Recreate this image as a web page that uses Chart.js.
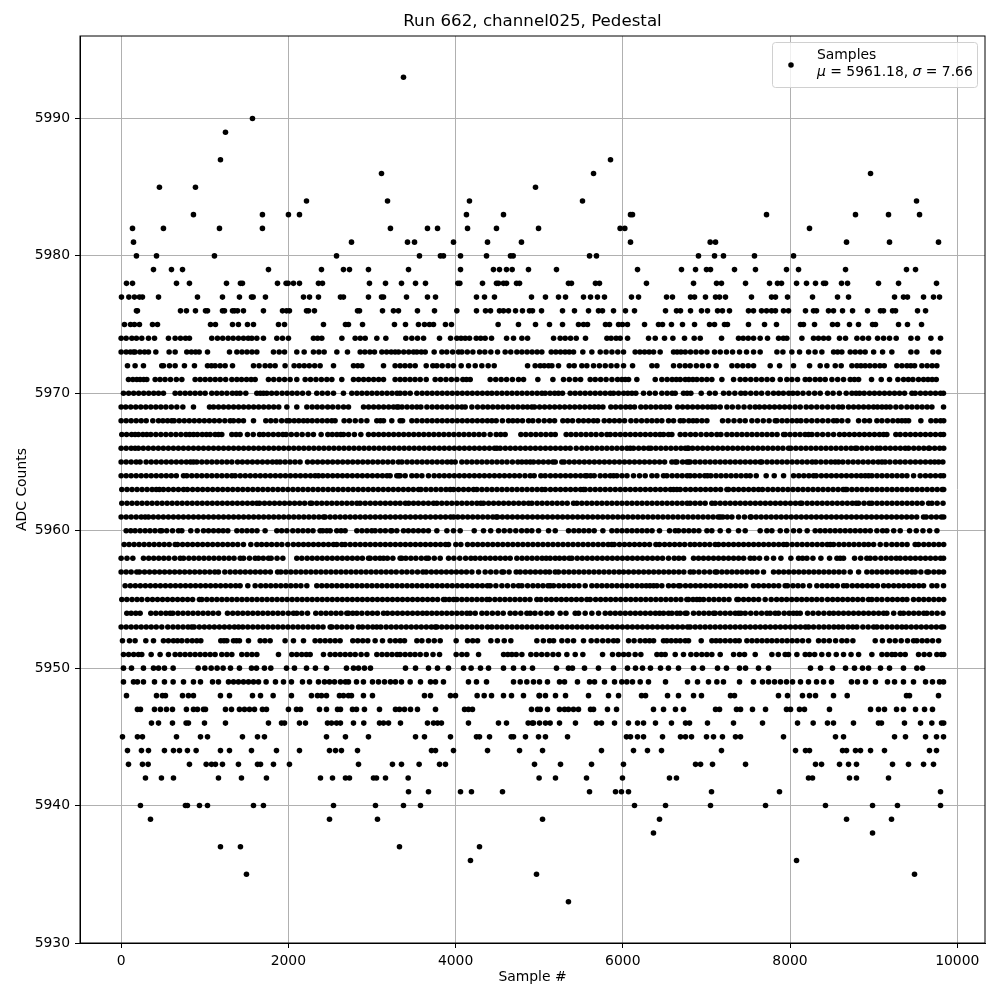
<!DOCTYPE html>
<html>
<head>
<meta charset="utf-8">
<script src="https://cdn.jsdelivr.net/npm/chart.js@4"></script>
<style>
body { margin: 0; background: #fff; }
canvas { display: block; }
</style>
</head>
<body>
<canvas id="myChart" width="1000" height="1000"></canvas>
<script>
// sample numbers, one array per ADC level
const l5993 = [3377];
const l5990 = [1571];
const l5989 = [1248];
const l5987 = [1188, 5853];
const l5986 = [3114, 5650, 8963];
const l5985 = [458, 889, 4956];
const l5984 = [2217, 3186, 4166, 5518, 9513];
const l5983 = [865, 1690, 2001, 2133, 4130, 4573, 6092, 6116, 7719, 8783, 9178, 9549];
const l5982 = [136, 506, 1176, 1690, 3221, 3664, 3784, 4143, 4489, 4992, 5968, 6024, 8233];
const l5981 = [148, 2755, 3425, 3509, 3975, 4382, 4788, 6092, 7045, 7109, 8676, 9190, 9776];
const l5980 = [183, 423, 1116, 2576, 3568, 3819, 3855, 4059, 4370, 4657, 4689, 5602, 5685, 6905, 7097, 7204, 7575, 8042];
const l5979 = [387, 602, 734, 1762, 2396, 2659, 2731, 2958, 3437, 4059, 4453, 4525, 4609, 4677, 4872, 5207, 6176, 6702, 6870, 7001, 7049, 7336, 7587, 7958, 8102, 8664, 9393, 9501];
const l5978 = [64, 136, 662, 817, 1260, 1427, 1451, 1870, 1973, 1997, 2061, 2133, 2360, 2408, 2970, 3162, 3353, 3521, 3640, 4027, 4051, 4322, 4489, 4513, 4573, 4609, 4729, 4765, 5350, 5386, 5673, 5721, 6283, 6846, 7121, 7180, 7468, 7755, 7850, 7898, 8078, 8197, 8305, 8401, 8425, 8616, 8688, 9058, 9298, 9752];
const l5977 = [4, 92, 159, 219, 255, 447, 913, 1212, 1415, 1559, 1579, 1726, 2181, 2253, 2360, 2623, 2659, 2958, 3114, 3138, 3413, 3664, 3760, 4250, 4346, 4465, 4908, 5075, 5231, 5315, 5530, 5614, 5697, 5781, 6104, 6188, 6523, 6594, 6810, 6858, 6989, 7109, 7157, 7228, 7539, 7779, 7826, 7970, 8269, 8568, 8700, 9250, 9357, 9405, 9597, 9716, 9788];
const l5976 = [183, 195, 710, 781, 889, 1009, 1033, 1212, 1236, 1332, 1356, 1392, 1463, 1702, 1930, 1978, 2013, 2217, 2241, 2312, 2827, 2851, 3126, 3257, 3317, 3544, 3748, 4015, 4250, 4358, 4418, 4525, 4573, 4633, 4717, 4800, 4884, 4920, 5028, 5279, 5422, 5590, 5709, 5757, 5889, 6032, 6140, 6511, 6642, 6690, 6810, 6941, 7013, 7133, 7192, 7276, 7503, 7563, 7659, 7719, 7779, 7826, 7922, 7982, 8185, 8281, 8317, 8460, 8520, 8628, 8748, 8927, 9082, 9118, 9226, 9262, 9525, 9621];
const l5975 = [40, 112, 159, 219, 375, 435, 1069, 1128, 1332, 1403, 1511, 1583, 1882, 1954, 2420, 2683, 2719, 2887, 3269, 3401, 3556, 3628, 3688, 3736, 3879, 3951, 4509, 4752, 4956, 5123, 5279, 5470, 5530, 5578, 5793, 5841, 5949, 5996, 6056, 6260, 6427, 6475, 6582, 6714, 6858, 7037, 7097, 7216, 7252, 7503, 7695, 7838, 8125, 8161, 8293, 8508, 8568, 8711, 8819, 8987, 9022, 9298, 9405, 9573];
const l5974 = [0, 60, 128, 183, 247, 327, 399, 566, 646, 710, 770, 817, 1084, 1152, 1215, 1280, 1340, 1403, 1463, 1520, 1563, 1623, 1702, 1862, 1930, 2001, 2300, 2350, 2400, 2640, 2799, 2860, 2919, 3058, 3166, 3405, 3477, 3545, 3617, 3808, 3940, 4015, 4065, 4115, 4167, 4247, 4300, 4354, 4430, 4610, 4693, 4793, 4861, 5172, 5251, 5311, 5375, 5443, 5554, 5810, 5860, 5920, 5969, 6057, 6308, 6388, 6499, 6599, 6738, 6854, 6926, 7181, 7384, 7440, 7500, 7564, 7643, 7731, 7863, 7920, 7962, 8142, 8281, 8340, 8401, 8461, 8592, 8664, 8800, 8870, 8939, 9047, 9119, 9190, 9270, 9446, 9525, 9685, 9800];
const l5973 = [0, 60, 110, 148, 167, 225, 280, 327, 415, 574, 646, 785, 840, 890, 933, 1033, 1296, 1384, 1445, 1505, 1565, 1623, 1822, 1890, 1954, 2101, 2189, 2300, 2365, 2428, 2580, 2707, 2859, 2915, 2975, 3030, 3118, 3175, 3230, 3277, 3318, 3380, 3440, 3497, 3537, 3590, 3637, 3744, 3836, 3895, 3965, 4035, 4075, 4140, 4207, 4287, 4350, 4422, 4502, 4593, 4660, 4733, 4793, 4855, 4915, 4975, 5032, 5144, 5199, 5255, 5310, 5359, 5411, 5522, 5630, 5730, 5800, 5870, 5940, 6009, 6148, 6205, 6260, 6315, 6368, 6447, 6607, 6650, 6695, 6747, 6810, 6875, 6940, 7006, 7097, 7165, 7240, 7313, 7396, 7480, 7564, 7643, 7843, 7915, 8022, 8114, 8222, 8300, 8381, 8521, 8570, 8620, 8720, 8780, 8840, 8899, 9000, 9107, 9218, 9446, 9517, 9709, 9777];
const l5972 = [76, 167, 267, 486, 506, 578, 646, 757, 877, 1033, 1080, 1124, 1184, 1244, 1332, 1583, 1650, 1722, 1782, 1842, 1961, 2069, 2130, 2190, 2250, 2315, 2380, 2540, 2779, 2830, 2879, 3138, 3277, 3337, 3395, 3455, 3517, 3649, 3728, 3776, 3840, 3910, 3975, 4067, 4155, 4235, 4314, 4390, 4462, 4861, 4952, 5012, 5060, 5112, 5152, 5231, 5359, 5419, 5510, 5570, 5650, 5720, 5790, 5860, 5929, 6009, 6117, 6348, 6408, 6607, 6680, 6746, 6806, 6880, 6950, 7025, 7117, 7305, 7370, 7435, 7500, 7564, 7763, 7875, 8042, 8234, 8361, 8441, 8541, 8612, 8740, 8800, 8848, 8899, 8955, 9015, 9075, 9127, 9278, 9338, 9398, 9445, 9490, 9577, 9640, 9700, 9756];
const l5971 = [88, 140, 187, 227, 270, 307, 407, 465, 525, 590, 660, 726, 885, 945, 1005, 1065, 1125, 1185, 1250, 1324, 1384, 1440, 1500, 1555, 1603, 1762, 1825, 1890, 1955, 2021, 2101, 2201, 2265, 2330, 2395, 2460, 2520, 2639, 2779, 2840, 2900, 2960, 3020, 3080, 3138, 3277, 3337, 3395, 3455, 3515, 3577, 3649, 3756, 3820, 3885, 3950, 4015, 4087, 4130, 4175, 4414, 4480, 4545, 4610, 4680, 4753, 4813, 4984, 5164, 5291, 5360, 5431, 5495, 5610, 5670, 5735, 5800, 5870, 5937, 5989, 6030, 6069, 6168, 6388, 6467, 6530, 6590, 6640, 6687, 6747, 6790, 6838, 6886, 6945, 7005, 7065, 7185, 7325, 7404, 7465, 7530, 7595, 7660, 7725, 7790, 7883, 7962, 8022, 8090, 8182, 8234, 8301, 8360, 8421, 8501, 8570, 8640, 8720, 8770, 8820, 8975, 9091, 9190, 9290, 9358, 9415, 9470, 9537, 9597, 9650, 9700, 9749];
const l5970 = [28, 90, 150, 210, 270, 330, 390, 447, 506, 646, 705, 766, 825, 885, 945, 1005, 1084, 1144, 1204, 1265, 1330, 1380, 1423, 1491, 1623, 1665, 1702, 1742, 1800, 1860, 1925, 1985, 2045, 2105, 2170, 2241, 2340, 2405, 2470, 2540, 2659, 2759, 2820, 2880, 2940, 3000, 3060, 3120, 3180, 3240, 3300, 3337, 3395, 3457, 3537, 3600, 3660, 3720, 3780, 3840, 3900, 3960, 4020, 4080, 4140, 4200, 4260, 4320, 4380, 4434, 4494, 4555, 4615, 4675, 4735, 4795, 4855, 4915, 4975, 5032, 5072, 5130, 5185, 5231, 5279, 5371, 5430, 5490, 5550, 5610, 5670, 5730, 5790, 5850, 5889, 5949, 6010, 6060, 6109, 6156, 6248, 6320, 6388, 6467, 6530, 6590, 6627, 6726, 6770, 6814, 6938, 7037, 7105, 7205, 7270, 7340, 7412, 7464, 7530, 7595, 7660, 7735, 7803, 7863, 7920, 7985, 8034, 8090, 8155, 8225, 8295, 8361, 8449, 8515, 8590, 8672, 8740, 8790, 8832, 8887, 8951, 9010, 9070, 9130, 9190, 9250, 9310, 9370, 9458, 9497, 9560, 9620, 9680, 9740, 9800, 9835];
const l5969 = [0, 55, 115, 175, 235, 295, 355, 415, 475, 535, 600, 666, 738, 865, 1057, 1105, 1165, 1225, 1285, 1345, 1405, 1465, 1525, 1585, 1645, 1705, 1765, 1825, 1885, 1982, 2101, 2221, 2285, 2345, 2405, 2470, 2530, 2595, 2660, 2719, 2899, 2960, 3020, 3080, 3140, 3200, 3257, 3317, 3298, 3360, 3420, 3480, 3537, 3585, 3657, 3720, 3780, 3840, 3900, 3960, 4020, 4075, 4115, 4195, 4263, 4326, 4385, 4445, 4505, 4565, 4625, 4685, 4745, 4805, 4860, 4912, 4944, 5005, 5065, 5125, 5185, 5245, 5305, 5365, 5425, 5485, 5545, 5605, 5660, 5710, 5762, 5857, 5915, 5975, 6035, 6089, 6140, 6216, 6275, 6335, 6395, 6455, 6510, 6559, 6655, 6715, 6775, 6835, 6895, 6955, 7015, 7065, 7105, 7165, 7245, 7310, 7380, 7450, 7520, 7584, 7635, 7695, 7755, 7815, 7875, 7935, 7995, 8060, 8122, 8194, 8255, 8320, 8385, 8450, 8515, 8580, 8628, 8700, 8760, 8820, 8880, 8940, 8999, 9047, 9100, 9150, 9198, 9266, 9330, 9398, 9458, 9520, 9580, 9640, 9697, 9836];
const l5968 = [0, 60, 120, 180, 240, 300, 379, 447, 500, 555, 606, 634, 695, 755, 815, 875, 935, 995, 1055, 1115, 1175, 1240, 1304, 1344, 1405, 1463, 1583, 1730, 1790, 1850, 1920, 1982, 2013, 2070, 2125, 2181, 2229, 2285, 2345, 2405, 2465, 2520, 2559, 2667, 2730, 2800, 2870, 2939, 3058, 3100, 3138, 3237, 3337, 3366, 3477, 3537, 3600, 3660, 3720, 3780, 3840, 3900, 3960, 4020, 4080, 4140, 4200, 4260, 4320, 4380, 4434, 4486, 4560, 4633, 4685, 4740, 4800, 4873, 4924, 4992, 5060, 5125, 5184, 5283, 5340, 5399, 5471, 5530, 5590, 5650, 5698, 5778, 5840, 5900, 5960, 6021, 6097, 6160, 6225, 6288, 6348, 6408, 6467, 6547, 6607, 6687, 6726, 6790, 6840, 6886, 6946, 7006, 7193, 7260, 7330, 7400, 7464, 7544, 7610, 7680, 7750, 7823, 7843, 7905, 7965, 8025, 8082, 8130, 8195, 8260, 8325, 8390, 8455, 8521, 8561, 8620, 8692, 8820, 8891, 8951, 9039, 9099, 9165, 9230, 9290, 9338, 9380, 9418, 9565, 9685, 9745, 9800, 9838];
const l5967 = [8, 65, 125, 167, 207, 260, 307, 355, 415, 475, 535, 595, 655, 715, 775, 820, 866, 913, 970, 1020, 1065, 1124, 1165, 1204, 1324, 1375, 1423, 1511, 1580, 1655, 1702, 1760, 1820, 1880, 1934, 1973, 2035, 2100, 2165, 2235, 2300, 2392, 2472, 2525, 2580, 2627, 2659, 2720, 2790, 2867, 2958, 3020, 3080, 3140, 3200, 3260, 3320, 3380, 3440, 3500, 3560, 3620, 3680, 3740, 3800, 3860, 3920, 3980, 4040, 4100, 4160, 4220, 4280, 4340, 4414, 4486, 4540, 4593, 4781, 4840, 4900, 4960, 5020, 5080, 5140, 5192, 5323, 5380, 5440, 5500, 5560, 5620, 5680, 5745, 5810, 5850, 5910, 5970, 6030, 6090, 6150, 6210, 6270, 6330, 6390, 6445, 6487, 6547, 6587, 6687, 6746, 6810, 6870, 6935, 7000, 7060, 7125, 7173, 7245, 7305, 7365, 7425, 7485, 7545, 7605, 7665, 7725, 7785, 7845, 7923, 7942, 8000, 8060, 8120, 8180, 8222, 8262, 8325, 8390, 8455, 8521, 8592, 8650, 8710, 8770, 8830, 8890, 8950, 9010, 9070, 9119, 9158, 9266, 9318, 9380, 9440, 9500, 9560, 9620, 9680, 9740, 9800, 9836];
const l5966 = [0, 60, 120, 167, 207, 265, 325, 385, 445, 505, 565, 625, 685, 745, 805, 865, 925, 985, 1045, 1105, 1165, 1225, 1285, 1345, 1405, 1465, 1525, 1585, 1645, 1705, 1765, 1825, 1885, 1945, 2005, 2065, 2125, 2185, 2245, 2305, 2365, 2425, 2485, 2545, 2605, 2665, 2725, 2785, 2845, 2905, 2965, 3025, 3085, 3145, 3205, 3265, 3325, 3385, 3445, 3505, 3565, 3625, 3685, 3745, 3805, 3865, 3925, 3985, 4045, 4105, 4165, 4225, 4285, 4345, 4405, 4465, 4494, 4534, 4595, 4655, 4715, 4775, 4835, 4895, 4955, 5015, 5075, 5135, 5195, 5255, 5315, 5371, 5443, 5510, 5570, 5630, 5690, 5750, 5810, 5870, 5930, 5990, 6050, 6089, 6128, 6190, 6250, 6308, 6336, 6395, 6455, 6515, 6575, 6635, 6695, 6747, 6786, 6774, 6835, 6895, 6955, 7015, 7075, 7135, 7195, 7255, 7315, 7375, 7435, 7495, 7555, 7615, 7675, 7735, 7795, 7855, 7915, 7982, 8010, 8070, 8130, 8190, 8250, 8310, 8370, 8430, 8490, 8550, 8610, 8670, 8730, 8780, 8800, 8860, 8920, 8980, 9039, 9079, 9140, 9200, 9260, 9320, 9378, 9418, 9480, 9540, 9600, 9657, 9669, 9730, 9790, 9838];
const l5965 = [0, 60, 120, 180, 227, 299, 360, 420, 480, 540, 600, 660, 720, 780, 830, 865, 905, 965, 1025, 1085, 1145, 1205, 1265, 1324, 1392, 1450, 1510, 1570, 1630, 1690, 1750, 1810, 1860, 1902, 1961, 2020, 2080, 2140, 2229, 2290, 2350, 2410, 2470, 2530, 2590, 2650, 2710, 2770, 2830, 2890, 2950, 3010, 3070, 3130, 3190, 3250, 3317, 3358, 3420, 3480, 3540, 3600, 3660, 3720, 3780, 3840, 3900, 3950, 3995, 4075, 4135, 4195, 4255, 4315, 4375, 4435, 4495, 4555, 4615, 4680, 4745, 4793, 4845, 4893, 4932, 4992, 5050, 5110, 5164, 5192, 5271, 5299, 5360, 5420, 5480, 5540, 5600, 5660, 5720, 5780, 5840, 5900, 5960, 6020, 6080, 6140, 6200, 6260, 6320, 6380, 6440, 6500, 6587, 6647, 6715, 6786, 6627, 6766, 6806, 6865, 6925, 6985, 7045, 7105, 7165, 7225, 7285, 7345, 7405, 7465, 7525, 7585, 7643, 7663, 7725, 7785, 7845, 7905, 7965, 8025, 8085, 8145, 8205, 8265, 8309, 8369, 8430, 8490, 8540, 8580, 8632, 8695, 8755, 8815, 8875, 8935, 8995, 9055, 9099, 9138, 9195, 9260, 9318, 9378, 9440, 9500, 9560, 9620, 9680, 9730, 9777, 9828];
const l5964 = [0, 60, 120, 180, 240, 300, 360, 420, 480, 540, 600, 660, 746, 785, 845, 905, 965, 1025, 1085, 1145, 1205, 1265, 1324, 1364, 1425, 1485, 1545, 1605, 1665, 1725, 1785, 1845, 1905, 1965, 2025, 2085, 2145, 2205, 2265, 2320, 2360, 2412, 2470, 2530, 2588, 2647, 2705, 2765, 2825, 2885, 2945, 3005, 3065, 3125, 3180, 3217, 3297, 3337, 3318, 3397, 3477, 3535, 3597, 3676, 3744, 3805, 3865, 3925, 3985, 4045, 4105, 4165, 4225, 4285, 4345, 4405, 4465, 4525, 4585, 4645, 4705, 4765, 4830, 4893, 4940, 5020, 5072, 5135, 5195, 5255, 5315, 5375, 5435, 5495, 5550, 5570, 5615, 5658, 5730, 5790, 5850, 5889, 5929, 5990, 6050, 6128, 6200, 6268, 6348, 6408, 6487, 6527, 6590, 6650, 6710, 6770, 6806, 6860, 6920, 6980, 7013, 7053, 7115, 7175, 7235, 7295, 7355, 7415, 7475, 7524, 7596, 7715, 7811, 7923, 8042, 8105, 8165, 8225, 8281, 8313, 8375, 8435, 8495, 8555, 8615, 8675, 8735, 8795, 8850, 8899, 8939, 8979, 9040, 9100, 9160, 9220, 9280, 9340, 9398, 9478, 9557, 9620, 9680, 9740, 9800, 9836];
const l5963 = [8, 70, 130, 190, 250, 310, 370, 420, 458, 506, 565, 625, 685, 746, 793, 855, 915, 975, 1035, 1095, 1155, 1215, 1275, 1335, 1395, 1455, 1515, 1575, 1635, 1695, 1755, 1815, 1875, 1935, 1995, 2055, 2115, 2175, 2235, 2295, 2355, 2415, 2475, 2535, 2595, 2655, 2715, 2775, 2835, 2895, 2955, 3015, 3075, 3135, 3195, 3255, 3315, 3375, 3435, 3495, 3557, 3585, 3645, 3705, 3765, 3825, 3885, 3936, 3976, 4035, 4095, 4155, 4215, 4255, 4315, 4375, 4435, 4495, 4555, 4615, 4675, 4735, 4795, 4855, 4915, 4975, 5032, 5072, 5135, 5195, 5255, 5315, 5375, 5435, 5495, 5530, 5550, 5610, 5670, 5730, 5790, 5850, 5910, 5970, 6030, 6090, 6150, 6210, 6270, 6330, 6390, 6450, 6510, 6570, 6607, 6647, 6687, 6750, 6810, 6870, 6930, 6990, 7050, 7110, 7170, 7245, 7265, 7325, 7385, 7445, 7505, 7565, 7623, 7671, 7735, 7795, 7855, 7915, 7975, 8035, 8095, 8155, 8215, 8275, 8335, 8395, 8455, 8515, 8575, 8635, 8660, 8680, 8740, 8800, 8860, 8920, 8980, 9040, 9100, 9160, 9220, 9280, 9340, 9400, 9460, 9520, 9580, 9640, 9700, 9760, 9820, 9838];
const l5962 = [8, 70, 130, 190, 250, 310, 370, 430, 490, 550, 610, 670, 730, 790, 850, 910, 970, 1030, 1090, 1150, 1210, 1270, 1330, 1390, 1450, 1510, 1570, 1623, 1655, 1715, 1775, 1835, 1895, 1955, 2015, 2075, 2135, 2195, 2261, 2281, 2340, 2400, 2460, 2520, 2580, 2640, 2700, 2760, 2820, 2859, 2919, 2980, 3040, 3100, 3160, 3220, 3280, 3337, 3400, 3440, 3497, 3555, 3615, 3675, 3736, 3776, 3835, 3895, 3955, 4015, 4075, 4135, 4195, 4255, 4302, 4334, 4395, 4455, 4515, 4575, 4635, 4695, 4755, 4815, 4873, 4912, 4975, 5035, 5095, 5155, 5215, 5275, 5335, 5411, 5451, 5510, 5570, 5630, 5690, 5750, 5810, 5870, 5930, 5990, 6050, 6110, 6170, 6230, 6290, 6350, 6410, 6470, 6530, 6590, 6650, 6710, 6770, 6806, 6865, 6925, 6985, 7065, 7105, 7165, 7225, 7285, 7345, 7405, 7465, 7525, 7585, 7645, 7705, 7765, 7825, 7885, 7945, 8005, 8065, 8122, 8142, 8205, 8265, 8325, 8385, 8445, 8505, 8565, 8625, 8685, 8745, 8792, 8820, 8885, 8947, 8979, 9040, 9100, 9160, 9220, 9280, 9340, 9400, 9460, 9520, 9580, 9657, 9697, 9760, 9830];
const l5961 = [0, 60, 120, 180, 240, 287, 327, 385, 445, 505, 565, 625, 685, 745, 805, 865, 925, 985, 1045, 1105, 1165, 1225, 1285, 1345, 1405, 1465, 1525, 1585, 1645, 1705, 1765, 1825, 1885, 1945, 2005, 2065, 2125, 2185, 2245, 2305, 2365, 2420, 2440, 2500, 2560, 2620, 2680, 2740, 2800, 2860, 2920, 2980, 3040, 3100, 3160, 3220, 3280, 3340, 3400, 3460, 3520, 3580, 3640, 3700, 3760, 3820, 3880, 3940, 3976, 4027, 4085, 4145, 4205, 4265, 4325, 4385, 4445, 4486, 4502, 4560, 4620, 4680, 4740, 4800, 4860, 4920, 4980, 5040, 5100, 5160, 5220, 5280, 5340, 5400, 5460, 5520, 5580, 5640, 5700, 5760, 5820, 5880, 5940, 6000, 6060, 6120, 6180, 6240, 6300, 6360, 6420, 6480, 6540, 6600, 6660, 6720, 6780, 6840, 6900, 6960, 7020, 7080, 7140, 7165, 7197, 7250, 7305, 7384, 7455, 7524, 7536, 7595, 7655, 7715, 7775, 7835, 7895, 7955, 8015, 8075, 8135, 8195, 8255, 8315, 8375, 8435, 8495, 8555, 8615, 8675, 8735, 8795, 8855, 8915, 8975, 9035, 9095, 9155, 9215, 9275, 9335, 9395, 9455, 9515, 9597, 9629, 9690, 9750, 9810, 9838];
const l5960 = [60, 115, 167, 227, 287, 345, 405, 466, 486, 545, 615, 686, 726, 833, 910, 985, 1045, 1105, 1165, 1220, 1276, 1384, 1445, 1505, 1565, 1625, 1722, 1862, 1920, 1982, 2053, 2115, 2175, 2235, 2295, 2380, 2412, 2460, 2500, 2579, 2630, 2679, 2819, 2880, 2940, 2998, 3038, 3100, 3160, 3225, 3297, 3238, 3377, 3435, 3495, 3555, 3615, 3675, 3776, 3896, 3975, 4055, 4223, 4334, 4420, 4514, 4582, 4650, 4720, 4790, 4853, 4912, 4992, 5112, 5192, 5351, 5415, 5475, 5535, 5595, 5658, 5762, 5869, 5930, 5990, 6050, 6110, 6170, 6230, 6290, 6350, 6439, 6559, 6627, 6667, 6730, 6790, 6850, 6910, 7006, 7065, 7165, 7265, 7384, 7464, 7643, 7723, 7783, 7883, 7960, 8042, 8114, 8205, 8301, 8361, 8420, 8480, 8540, 8600, 8660, 8720, 8780, 8840, 8900, 8960, 9039, 9107, 9158, 9240, 9318, 9430, 9510, 9590, 9670, 9757];
const l5959 = [36, 95, 155, 215, 275, 335, 395, 455, 515, 575, 646, 674, 735, 795, 855, 915, 975, 1035, 1095, 1155, 1215, 1275, 1335, 1395, 1463, 1551, 1623, 1680, 1740, 1800, 1862, 1922, 1993, 2060, 2121, 2181, 2240, 2300, 2360, 2420, 2480, 2540, 2579, 2639, 2679, 2740, 2800, 2860, 2920, 2980, 3040, 3100, 3160, 3220, 3280, 3340, 3400, 3460, 3520, 3580, 3640, 3700, 3760, 3820, 3880, 3916, 4003, 4063, 4143, 4205, 4265, 4325, 4385, 4445, 4505, 4565, 4625, 4685, 4745, 4805, 4865, 4925, 4985, 5045, 5105, 5165, 5225, 5285, 5345, 5405, 5465, 5525, 5585, 5645, 5705, 5765, 5825, 5869, 5897, 5960, 6020, 6080, 6140, 6200, 6260, 6320, 6396, 6439, 6500, 6560, 6620, 6680, 6740, 6806, 6860, 6920, 6980, 7040, 7105, 7145, 7205, 7265, 7325, 7385, 7445, 7505, 7565, 7625, 7685, 7745, 7805, 7865, 7923, 7962, 8025, 8085, 8145, 8205, 8265, 8325, 8385, 8445, 8481, 8521, 8585, 8645, 8705, 8765, 8825, 8885, 8939, 9000, 9079, 9150, 9218, 9278, 9340, 9400, 9497, 9537, 9600, 9660, 9720, 9780, 9838];
const l5958 = [0, 70, 140, 267, 330, 390, 450, 510, 570, 640, 706, 746, 810, 870, 930, 990, 1050, 1110, 1170, 1230, 1290, 1350, 1424, 1464, 1535, 1603, 1643, 1700, 1762, 1794, 1865, 1934, 2101, 2161, 2225, 2285, 2345, 2405, 2465, 2525, 2585, 2645, 2705, 2765, 2825, 2885, 2959, 2979, 3040, 3095, 3138, 3185, 3250, 3337, 3357, 3405, 3465, 3525, 3590, 3649, 3676, 3745, 3816, 3916, 3980, 4050, 4120, 4183, 4235, 4295, 4355, 4415, 4475, 4535, 4595, 4653, 4733, 4795, 4855, 4915, 4975, 5035, 5084, 5132, 5192, 5243, 5300, 5359, 5391, 5455, 5515, 5575, 5635, 5695, 5755, 5815, 5875, 5935, 5995, 6055, 6115, 6175, 6235, 6295, 6355, 6415, 6475, 6547, 6615, 6670, 6727, 6846, 6906, 6965, 7025, 7085, 7145, 7205, 7265, 7325, 7385, 7445, 7524, 7572, 7635, 7720, 7803, 7891, 8010, 8102, 8150, 8202, 8274, 8369, 8473, 8561, 8600, 8640, 8772, 8845, 8919, 8959, 9019, 9087, 9150, 9210, 9270, 9318, 9380, 9440, 9500, 9560, 9620, 9680, 9740, 9800, 9836];
const l5957 = [0, 60, 120, 187, 219, 280, 340, 400, 460, 520, 580, 640, 700, 760, 820, 880, 940, 1000, 1060, 1120, 1164, 1240, 1304, 1365, 1425, 1485, 1545, 1605, 1665, 1725, 1785, 1871, 1910, 1970, 2030, 2090, 2150, 2210, 2270, 2330, 2390, 2450, 2510, 2570, 2630, 2690, 2750, 2810, 2870, 2930, 2990, 3050, 3110, 3170, 3230, 3290, 3357, 3417, 3480, 3545, 3609, 3649, 3710, 3770, 3830, 3890, 3950, 4010, 4070, 4130, 4195, 4275, 4354, 4420, 4485, 4554, 4574, 4640, 4725, 4773, 4835, 4895, 4955, 5015, 5075, 5124, 5192, 5231, 5295, 5355, 5415, 5475, 5535, 5595, 5655, 5715, 5775, 5835, 5895, 5955, 6009, 6069, 6130, 6190, 6250, 6310, 6370, 6430, 6490, 6550, 6610, 6670, 6730, 6806, 6846, 6910, 6975, 7040, 7105, 7125, 7185, 7245, 7305, 7365, 7425, 7485, 7545, 7605, 7683, 7803, 7865, 7925, 7985, 8045, 8105, 8165, 8225, 8285, 8345, 8405, 8465, 8525, 8585, 8645, 8720, 8820, 8919, 8980, 9040, 9100, 9160, 9220, 9280, 9340, 9400, 9458, 9497, 9565, 9637, 9657, 9720, 9780, 9836];
const l5956 = [48, 110, 170, 230, 290, 350, 410, 470, 530, 590, 650, 710, 770, 830, 890, 950, 1010, 1070, 1130, 1190, 1250, 1310, 1370, 1423, 1515, 1603, 1670, 1730, 1790, 1850, 1910, 1970, 2030, 2090, 2150, 2221, 2340, 2400, 2460, 2520, 2580, 2640, 2700, 2760, 2820, 2880, 2940, 3000, 3060, 3120, 3180, 3240, 3300, 3360, 3420, 3480, 3540, 3600, 3660, 3720, 3780, 3840, 3900, 3960, 4020, 4080, 4140, 4200, 4260, 4320, 4380, 4414, 4482, 4554, 4620, 4690, 4753, 4793, 4861, 4925, 4985, 5045, 5105, 5132, 5172, 5235, 5295, 5355, 5415, 5475, 5550, 5630, 5690, 5750, 5810, 5870, 5930, 5990, 6050, 6110, 6170, 6228, 6280, 6325, 6368, 6408, 6467, 6547, 6607, 6667, 6687, 6750, 6810, 6870, 6930, 6990, 7050, 7110, 7170, 7230, 7290, 7350, 7410, 7470, 7564, 7623, 7685, 7745, 7805, 7865, 7942, 7970, 8035, 8095, 8155, 8234, 8321, 8385, 8445, 8505, 8565, 8640, 8680, 8745, 8805, 8865, 8925, 8985, 9045, 9119, 9178, 9240, 9300, 9360, 9420, 9480, 9540, 9597, 9697, 9756, 9836];
const l5955 = [8, 68, 130, 190, 247, 315, 375, 435, 495, 555, 615, 675, 735, 795, 855, 936, 965, 1025, 1085, 1145, 1205, 1265, 1325, 1385, 1445, 1505, 1565, 1625, 1685, 1745, 1805, 1865, 1925, 1985, 2045, 2105, 2165, 2225, 2285, 2345, 2405, 2465, 2525, 2585, 2645, 2705, 2765, 2825, 2885, 2945, 3005, 3065, 3125, 3185, 3245, 3305, 3365, 3425, 3485, 3545, 3605, 3665, 3725, 3785, 3856, 3876, 3925, 3976, 4015, 4075, 4135, 4195, 4255, 4315, 4374, 4406, 4470, 4530, 4590, 4650, 4710, 4770, 4830, 4890, 4972, 5020, 5085, 5145, 5205, 5265, 5325, 5385, 5445, 5505, 5570, 5610, 5675, 5735, 5795, 5855, 5915, 5975, 6035, 6095, 6155, 6215, 6275, 6335, 6395, 6455, 6515, 6575, 6635, 6695, 6766, 6786, 6840, 6886, 6920, 6966, 7030, 7090, 7150, 7210, 7270, 7365, 7384, 7445, 7505, 7565, 7625, 7703, 7775, 7840, 7900, 7960, 8020, 8080, 8140, 8200, 8260, 8320, 8381, 8449, 8510, 8570, 8630, 8690, 8750, 8810, 8870, 8939, 8979, 9039, 9099, 9165, 9225, 9285, 9345, 9398, 9477, 9540, 9600, 9660, 9720, 9780, 9838];
const l5954 = [68, 120, 175, 227, 355, 415, 475, 535, 586, 618, 680, 740, 800, 860, 920, 980, 1040, 1100, 1164, 1272, 1335, 1395, 1455, 1515, 1575, 1635, 1695, 1755, 1815, 1875, 1935, 2000, 2061, 2101, 2161, 2229, 2328, 2390, 2450, 2510, 2570, 2630, 2699, 2719, 2770, 2819, 2879, 2945, 3005, 3065, 3138, 3185, 3245, 3305, 3365, 3425, 3485, 3545, 3605, 3657, 3716, 3775, 3835, 3895, 3955, 4015, 4075, 4135, 4175, 4235, 4315, 4374, 4440, 4505, 4570, 4653, 4713, 4780, 4853, 4893, 4950, 5020, 5092, 5152, 5251, 5320, 5431, 5471, 5550, 5630, 5710, 5790, 5850, 5910, 5970, 6030, 6090, 6150, 6210, 6270, 6330, 6390, 6440, 6487, 6547, 6647, 6747, 6587, 6687, 6767, 6846, 6910, 6970, 7030, 7085, 7105, 7165, 7225, 7285, 7345, 7384, 7412, 7464, 7530, 7595, 7660, 7723, 7763, 7823, 7863, 7930, 7990, 8040, 8082, 8122, 8210, 8275, 8340, 8405, 8470, 8521, 8580, 8640, 8700, 8760, 8820, 8880, 8940, 9000, 9060, 9119, 9158, 9240, 9318, 9358, 9420, 9480, 9540, 9600, 9637, 9697, 9760, 9830];
const l5953 = [0, 60, 120, 180, 240, 300, 360, 420, 486, 558, 620, 680, 740, 800, 845, 873, 935, 995, 1055, 1115, 1175, 1235, 1295, 1355, 1404, 1455, 1515, 1575, 1635, 1695, 1755, 1815, 1875, 1935, 1995, 2055, 2115, 2175, 2235, 2295, 2355, 2415, 2500, 2520, 2580, 2640, 2700, 2760, 2839, 2887, 2950, 3010, 3058, 3106, 3170, 3230, 3290, 3350, 3410, 3470, 3530, 3590, 3650, 3710, 3756, 3776, 3835, 3895, 3955, 4015, 4075, 4135, 4195, 4255, 4315, 4382, 4434, 4495, 4555, 4615, 4675, 4735, 4795, 4855, 4915, 4975, 5035, 5095, 5155, 5215, 5275, 5335, 5395, 5455, 5515, 5575, 5635, 5695, 5755, 5815, 5875, 5935, 5995, 6055, 6115, 6175, 6235, 6295, 6355, 6415, 6475, 6535, 6595, 6655, 6715, 6806, 6775, 6866, 6925, 6985, 7045, 7105, 7165, 7225, 7285, 7345, 7405, 7465, 7525, 7585, 7645, 7705, 7765, 7825, 7885, 7945, 8005, 8065, 8125, 8185, 8222, 8281, 8345, 8405, 8465, 8525, 8580, 8632, 8695, 8750, 8800, 8871, 8935, 9000, 9040, 9099, 9160, 9220, 9280, 9338, 9390, 9450, 9510, 9570, 9630, 9690, 9750, 9810, 9836];
const l5952 = [16, 100, 167, 295, 387, 506, 565, 625, 674, 726, 790, 850, 905, 953, 1192, 1230, 1264, 1344, 1380, 1415, 1523, 1663, 1720, 1782, 1961, 2061, 2181, 2320, 2380, 2440, 2500, 2560, 2619, 2771, 2830, 2890, 2950, 3038, 3126, 3217, 3280, 3337, 3389, 3537, 3597, 3676, 3745, 3816, 4007, 4143, 4205, 4263, 4422, 4500, 4582, 4661, 4972, 5050, 5124, 5172, 5271, 5340, 5411, 5530, 5622, 5690, 5760, 5825, 5889, 5937, 6069, 6135, 6208, 6268, 6320, 6368, 6487, 6527, 6579, 6635, 6687, 6747, 6786, 6938, 7065, 7115, 7165, 7225, 7285, 7345, 7392, 7484, 7545, 7605, 7665, 7725, 7783, 7843, 7905, 7965, 8025, 8085, 8150, 8222, 8341, 8405, 8470, 8545, 8620, 8680, 8752, 9019, 9105, 9190, 9258, 9330, 9405, 9478, 9517, 9580, 9640, 9705, 9777];
const l5951 = [28, 90, 150, 207, 247, 359, 466, 566, 646, 705, 765, 825, 885, 945, 1005, 1065, 1124, 1204, 1265, 1324, 1443, 1505, 1565, 1623, 1882, 2041, 2100, 2160, 2215, 2261, 2420, 2500, 2560, 2620, 2680, 2740, 2800, 2870, 2939, 3058, 3120, 3180, 3240, 3300, 3337, 3397, 3457, 3515, 3577, 3649, 3730, 3808, 4007, 4075, 4135, 4275, 4574, 4625, 4673, 4725, 4793, 4900, 4965, 5030, 5095, 5165, 5231, 5331, 5431, 5522, 5758, 5877, 5949, 6010, 6070, 6148, 6216, 6408, 6460, 6507, 6627, 6726, 6814, 6880, 6945, 7005, 7065, 7165, 7325, 7396, 7456, 7584, 7783, 7860, 7942, 7982, 8082, 8182, 8234, 8295, 8380, 8461, 8553, 8640, 8730, 8820, 8979, 9099, 9160, 9218, 9258, 9320, 9378, 9537, 9604, 9669, 9756, 9810, 9838];
const l5950 = [28, 124, 267, 387, 447, 518, 622, 921, 1001, 1077, 1148, 1220, 1308, 1415, 1559, 1619, 1714, 1790, 1978, 2073, 2217, 2324, 2456, 2695, 2779, 2839, 2910, 2982, 3401, 3521, 3676, 3784, 3915, 4095, 4186, 4298, 4394, 4573, 4693, 4812, 4920, 5207, 5350, 5398, 5542, 5709, 5889, 6056, 6152, 6236, 6331, 6451, 6546, 6666, 6846, 6953, 7133, 7240, 7396, 7468, 7623, 7743, 8245, 8365, 8508, 8664, 8771, 8867, 8939, 9082, 9190, 9357, 9517, 9585];
const l5949 = [28, 148, 195, 267, 399, 518, 622, 746, 865, 949, 1093, 1164, 1284, 1344, 1403, 1463, 1523, 1583, 1643, 1734, 1846, 1942, 2037, 2169, 2253, 2360, 2432, 2492, 2552, 2623, 2683, 2719, 2815, 2898, 3006, 3078, 3150, 3221, 3281, 3353, 3457, 3580, 3700, 3760, 3855, 4154, 4250, 4370, 4693, 4773, 4852, 4932, 5004, 5099, 5243, 5303, 5458, 5602, 5662, 5781, 5901, 5988, 6048, 6116, 6208, 6307, 6511, 6774, 6894, 7025, 7125, 7204, 7396, 7563, 7671, 7743, 7815, 7886, 7958, 8030, 8125, 8221, 8317, 8401, 8496, 8735, 8807, 8903, 9022, 9166, 9250, 9357, 9477, 9621, 9704, 9788, 9836];
const l5948 = [64, 423, 494, 530, 734, 805, 865, 1188, 1296, 1571, 1667, 1818, 2037, 2276, 2348, 2396, 2456, 2611, 2659, 2719, 2755, 2898, 3006, 3628, 3700, 3939, 3999, 4258, 4342, 4430, 4573, 4669, 4812, 4999, 5004, 5075, 5195, 5315, 5590, 5829, 5949, 6224, 6272, 6535, 6666, 6846, 6941, 7288, 7336, 7862, 7970, 8149, 8233, 8305, 8520, 8684, 9393, 9429, 9776];
const l5947 = [195, 231, 399, 470, 542, 614, 781, 865, 913, 985, 1009, 1248, 1320, 1415, 1475, 1535, 1595, 1690, 1738, 2001, 2097, 2145, 2372, 2456, 2588, 2623, 2767, 2815, 2910, 3090, 3281, 3329, 3389, 3461, 3544, 3760, 4107, 4154, 4202, 4908, 4980, 5012, 5099, 5243, 5303, 5350, 5410, 5470, 5614, 5650, 5817, 5925, 6367, 6487, 6630, 6726, 7109, 7157, 7360, 7408, 7551, 7707, 7958, 8006, 8113, 8173, 8472, 8963, 9058, 9130, 9274, 9357, 9501, 9609, 9704];
const l5946 = [363, 447, 614, 777, 805, 997, 1248, 1762, 1918, 1954, 2133, 2205, 2468, 2516, 2576, 2623, 2779, 2902, 3090, 3138, 3198, 3341, 3664, 3736, 3784, 3831, 4154, 4513, 4609, 4868, 4916, 4932, 5004, 5075, 5131, 5243, 5434, 5685, 5745, 5901, 6068, 6176, 6248, 6391, 6582, 6750, 6798, 7013, 7324, 7671, 8090, 8277, 8448, 8520, 8759, 9058, 9094, 9369, 9561, 9696, 9812, 9838];
const l5945 = [16, 195, 255, 662, 949, 1033, 1451, 1631, 1714, 2456, 2683, 2958, 3521, 3628, 3939, 4250, 4286, 4406, 4665, 4693, 4836, 4992, 5075, 5339, 6044, 6092, 6176, 6248, 6475, 6690, 6750, 6822, 7001, 7085, 7192, 7348, 7408, 7922, 8544, 8640, 9250, 9381, 9621, 9752, 9836];
const l5944 = [76, 243, 327, 518, 626, 698, 793, 897, 1188, 1296, 1559, 1858, 2133, 2492, 2564, 2635, 2827, 3712, 3760, 3975, 4382, 4765, 5040, 5745, 6128, 6295, 6463, 7180, 8066, 8185, 8233, 8628, 8676, 8783, 8843, 8963, 9130, 9668, 9752];
const l5943 = [88, 255, 323, 817, 1017, 1081, 1128, 1212, 1403, 1631, 1667, 1822, 2013, 2839, 3245, 3353, 3564, 3808, 3879, 4944, 5255, 5626, 6008, 6870, 6930, 7073, 7468, 8305, 8377, 8592, 8700, 8795, 9226, 9417, 9597, 9716];
const l5942 = [291, 482, 626, 1164, 1439, 1738, 2384, 2528, 2683, 2731, 3018, 3054, 3162, 3433, 4999, 5195, 5566, 5996, 6558, 6642, 8221, 8269, 8711, 8795, 9178];
const l5941 = [3437, 3676, 4059, 4190, 4561, 5602, 5913, 5984, 6068, 7061, 7874, 9800];
const l5940 = [231, 769, 793, 937, 1033, 1583, 1702, 2540, 3042, 3377, 3580, 6140, 6511, 7049, 7707, 8424, 8987, 9285, 9800];
const l5939 = [351, 2492, 3066, 5040, 6439, 8676, 9214];
const l5938 = [6367, 8987];
const l5937 = [1188, 1427, 3329, 4286];
const l5936 = [4178, 8078];
const l5935 = [1499, 4968, 9489];
const l5933 = [5350];

const adcLevels = [5993, 5990, 5989, 5987, 5986, 5985, 5984, 5983, 5982, 5981, 5980, 5979, 5978, 5977, 5976, 5975, 5974, 5973, 5972, 5971, 5970, 5969, 5968, 5967, 5966, 5965, 5964, 5963, 5962, 5961, 5960, 5959, 5958, 5957, 5956, 5955, 5954, 5953, 5952, 5951, 5950, 5949, 5948, 5947, 5946, 5945, 5944, 5943, 5942, 5941, 5940, 5939, 5938, 5937, 5936, 5935, 5933];
const levelSamples = [l5993, l5990, l5989, l5987, l5986, l5985, l5984, l5983, l5982, l5981, l5980, l5979, l5978, l5977, l5976, l5975, l5974, l5973, l5972, l5971, l5970, l5969, l5968, l5967, l5966, l5965, l5964, l5963, l5962, l5961, l5960, l5959, l5958, l5957, l5956, l5955, l5954, l5953, l5952, l5951, l5950, l5949, l5948, l5947, l5946, l5945, l5944, l5943, l5942, l5941, l5940, l5939, l5938, l5937, l5936, l5935, l5933];

const xTickValues = [0, 2000, 4000, 6000, 8000, 10000];
const yTickValues = [5930, 5940, 5950, 5960, 5970, 5980, 5990];

const chartTitle = 'Run 662, channel025, Pedestal';
const legendLabel = 'Samples';
const meanValue = '5961.18';
const sigmaValue = '7.66';

const points = [];
adcLevels.forEach(function (level, i) {
    levelSamples[i].forEach(function (s) {
        points.push({ x: s, y: level });
    });
});

const fontName = '"DejaVu Sans"';

// legend sits inside the axes with a two line label, so it is drawn here
const insideLegend = {
    id: 'insideLegend',
    afterDatasetsDraw(chart) {
        const c = chart.ctx;
        c.save();
        c.beginPath();
        c.roundRect(772.5, 42.5, 205, 45, 3);
        c.fillStyle = 'rgba(255,255,255,0.8)';
        c.fill();
        c.strokeStyle = '#d0d0d0';
        c.lineWidth = 1;
        c.stroke();

        c.beginPath();
        c.arc(791, 65, 2.78, 0, Math.PI * 2);
        c.fillStyle = '#000';
        c.fill();

        c.fillStyle = '#000';
        c.textBaseline = 'alphabetic';
        c.textAlign = 'left';
        c.font = '13.9px ' + fontName;
        c.fillText(legendLabel, 817, 59);

        let x = 817;
        const parts = [
            ['italic ', '\u03bc'],
            ['', ' = ' + meanValue + ', '],
            ['italic ', '\u03c3'],
            ['', ' = ' + sigmaValue]
        ];
        parts.forEach(function (p) {
            c.font = p[0] + '13.9px ' + fontName;
            c.fillText(p[1], x, 76);
            x += c.measureText(p[1]).width;
        });
        c.restore();
    }
};

const ctx = document.getElementById('myChart').getContext('2d');

new Chart(ctx, {
    type: 'scatter',
    data: {
        datasets: [{
            label: legendLabel,
            data: points,
            backgroundColor: '#000',
            borderWidth: 0,
            pointRadius: 2.78,
            pointHoverRadius: 2.78
        }]
    },
    options: {
        responsive: false,
        animation: false,
        events: [],
        layout: { padding: { left: 0, right: 15, top: 0, bottom: 0 } },
        plugins: {
            legend: { display: false },
            tooltip: { enabled: false },
            title: {
                display: true,
                fullSize: false,
                text: chartTitle,
                color: '#000',
                font: { family: fontName, size: 16.67, weight: 'normal', lineHeight: 1.2 },
                padding: { top: 12, bottom: 4 }
            }
        },
        scales: {
            x: {
                type: 'linear',
                min: -492,
                max: 10332,
                afterFit(scale) { scale.height = 57; },
                afterBuildTicks(scale) {
                    scale.ticks = xTickValues.map(v => ({ value: v }));
                },
                title: {
                    display: true,
                    text: 'Sample #',
                    color: '#000',
                    font: { family: fontName, size: 13.9 },
                    padding: { top: 6, bottom: 14 }
                },
                ticks: {
                    color: '#000',
                    maxRotation: 0,
                    autoSkip: false,
                    font: { family: fontName, size: 13.9 },
                    padding: 5,
                    callback: v => String(v)
                },
                grid: { color: '#b0b0b0', lineWidth: 1, tickColor: '#000', tickLength: 5 },
                border: { color: '#000', width: 1 }
            },
            y: {
                type: 'linear',
                min: 5930,
                max: 5996,
                afterFit(scale) { scale.width = 80; },
                afterBuildTicks(scale) {
                    scale.ticks = yTickValues.map(v => ({ value: v }));
                },
                title: {
                    display: true,
                    text: 'ADC Counts',
                    color: '#000',
                    font: { family: fontName, size: 13.9 },
                    padding: { top: 14, bottom: 4 }
                },
                ticks: {
                    color: '#000',
                    autoSkip: false,
                    font: { family: fontName, size: 13.9 },
                    padding: 5,
                    callback: v => String(v)
                },
                grid: { color: '#b0b0b0', lineWidth: 1, tickColor: '#000', tickLength: 5 },
                border: { color: '#000', width: 1 }
            }
        }
    },
    plugins: [insideLegend, {
        // top and right edges of the axes frame
        id: 'frameEdges',
        afterDatasetsDraw(chart) {
            const a = chart.chartArea, c = chart.ctx;
            c.save();
            c.strokeStyle = '#000';
            c.lineWidth = 1;
            c.strokeRect(a.left, a.top, a.right - a.left, a.bottom - a.top);
            c.restore();
        }
    }]
});
</script>
</body>
</html>
